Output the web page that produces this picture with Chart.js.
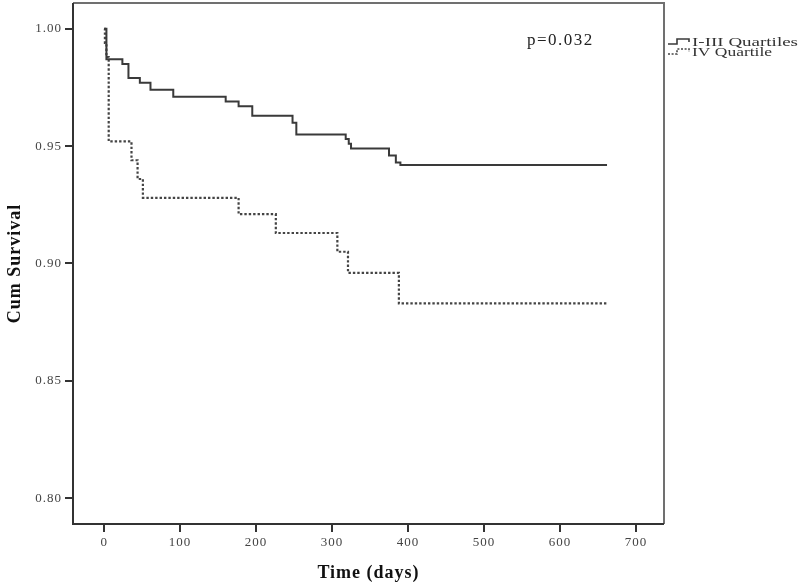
<!DOCTYPE html>
<html><head><meta charset="utf-8">
<script src="https://cdn.jsdelivr.net/npm/chart.js@4/dist/chart.umd.min.js"></script>
<style>html,body{margin:0;padding:0;background:#fff}#wrap{width:800px;height:586px}</style>
</head><body><div id="wrap"><canvas id="c" width="800" height="586"></canvas></div>
<script>
// ---- data ----
const seriesNames = ['I-III Quartiles', 'IV Quartile'];
const q13Days = [0, 3, 24, 32, 47, 61, 91, 160, 177, 195, 248, 253, 318, 322, 325, 375, 384, 390, 662];
const q13Surv = [1.000, 0.987, 0.985, 0.979, 0.977, 0.974, 0.971, 0.969, 0.967, 0.963, 0.960, 0.955, 0.953, 0.951, 0.949, 0.946, 0.943, 0.942, 0.942];
const q4Days = [0, 1, 3, 6, 36, 44, 51, 177, 226, 307, 321, 388, 662];
const q4Surv = [1.000, 0.994, 0.988, 0.952, 0.944, 0.936, 0.928, 0.921, 0.913, 0.905, 0.896, 0.883, 0.883];
const xTicks = [0, 100, 200, 300, 400, 500, 600, 700];
const yTicks = [0.80, 0.85, 0.90, 0.95, 1.00];
const xTitle = 'Time (days)';
const yTitle = 'Cum Survival';
const pValueText = 'p=0.032';

const toPts = (xs, ys) => xs.map((x, i) => ({x: x, y: ys[i]}));
const SERIF = "'Liberation Serif', 'DejaVu Serif', serif";

const decorPlugin = {
  id: 'decor',
  beforeDraw(chart) {
    chart.ctx.letterSpacing = '1px';
  },
  afterDraw(chart) {
    const ctx = chart.ctx, a = chart.chartArea;
    ctx.save();
    ctx.letterSpacing = '0px';
    // frame
    ctx.lineWidth = 2;
    ctx.strokeStyle = '#707070';
    ctx.beginPath();
    ctx.moveTo(a.left, a.top); ctx.lineTo(a.right, a.top); ctx.lineTo(a.right, a.bottom);
    ctx.stroke();
    ctx.strokeStyle = '#333';
    ctx.beginPath();
    ctx.moveTo(a.left, a.top); ctx.lineTo(a.left, a.bottom); ctx.lineTo(a.right, a.bottom);
    ctx.stroke();
    // p value
    ctx.fillStyle = '#222';
    ctx.font = '17px ' + SERIF;
    ctx.letterSpacing = '1.5px';
    ctx.textBaseline = 'middle';
    ctx.textAlign = 'left';
    ctx.fillText(pValueText, 527, 41);
    // legend
    ctx.letterSpacing = '0px';
    const ds = chart.data.datasets;
    const rows = [44, 54];
    ds.forEach((d, i) => {
      const y = rows[i];
      ctx.strokeStyle = d.borderColor;
      ctx.lineWidth = 1.6;
      ctx.setLineDash(d.borderDash && d.borderDash.length ? [2, 1.6] : []);
      ctx.beginPath();
      ctx.moveTo(668, y); ctx.lineTo(677, y); ctx.lineTo(677, y - 5);
      ctx.lineTo(689, y - 5); ctx.lineTo(689, y - 2);
      ctx.stroke();
      ctx.setLineDash([]);
      ctx.font = '12px ' + SERIF;
      ctx.fillStyle = '#333';
      const txt = d.label;
      const w = ctx.measureText(txt).width;
      const target = i === 0 ? 106 : 80;
      ctx.save();
      ctx.translate(692, y - 1);
      ctx.scale(target / w, 1);
      ctx.textBaseline = 'middle';
      ctx.fillText(txt, 0, 0);
      ctx.restore();
    });
    ctx.restore();
  }
};

new Chart(document.getElementById('c'), {
  type: 'line',
  data: {
    datasets: [
      {label: seriesNames[0], data: toPts(q13Days, q13Surv), borderColor: '#3a3a3a', borderWidth: 2, stepped: 'before', pointRadius: 0, fill: false},
      {label: seriesNames[1], data: toPts(q4Days, q4Surv), borderColor: '#444', borderWidth: 2.2, borderDash: [2.4, 2], stepped: 'before', pointRadius: 0, fill: false}
    ]
  },
  options: {
    responsive: false,
    devicePixelRatio: 1,
    animation: false,
    layout: {padding: {top: 3, right: 136, left: 0, bottom: 0}},
    plugins: {legend: {display: false}, tooltip: {enabled: false}},
    scales: {
      x: {
        type: 'linear', min: -41, max: 737,
        afterBuildTicks: s => { s.ticks = xTicks.map(v => ({value: v})); },
        afterFit: s => { s.height = 62; s.paddingLeft = 0; s.paddingRight = 0; },
        border: {display: false},
        grid: {drawOnChartArea: false, drawTicks: true, tickLength: 8, color: '#333', lineWidth: 2},
        ticks: {color: '#444', font: {family: SERIF, size: 13}, padding: 3, maxRotation: 0, autoSkip: false},
        title: {display: true, text: xTitle, color: '#111', font: {family: SERIF, size: 18, weight: 'bold'}, padding: {top: 0, bottom: 2}}
      },
      y: {
        type: 'linear', min: 0.789, max: 1.011,
        afterBuildTicks: s => { s.ticks = yTicks.map(v => ({value: v})); },
        afterFit: s => { s.width = 73; s.paddingTop = 0; s.paddingBottom = 0; },
        border: {display: false},
        grid: {drawOnChartArea: false, drawTicks: true, tickLength: 8, color: '#333', lineWidth: 2},
        ticks: {color: '#444', font: {family: SERIF, size: 13}, padding: 3, autoSkip: false, callback: v => v.toFixed(2)},
        title: {display: true, text: yTitle, color: '#111', font: {family: SERIF, size: 18, weight: 'bold'}, padding: {top: 5, bottom: 0}}
      }
    }
  },
  plugins: [decorPlugin]
});
</script>
</body></html>
